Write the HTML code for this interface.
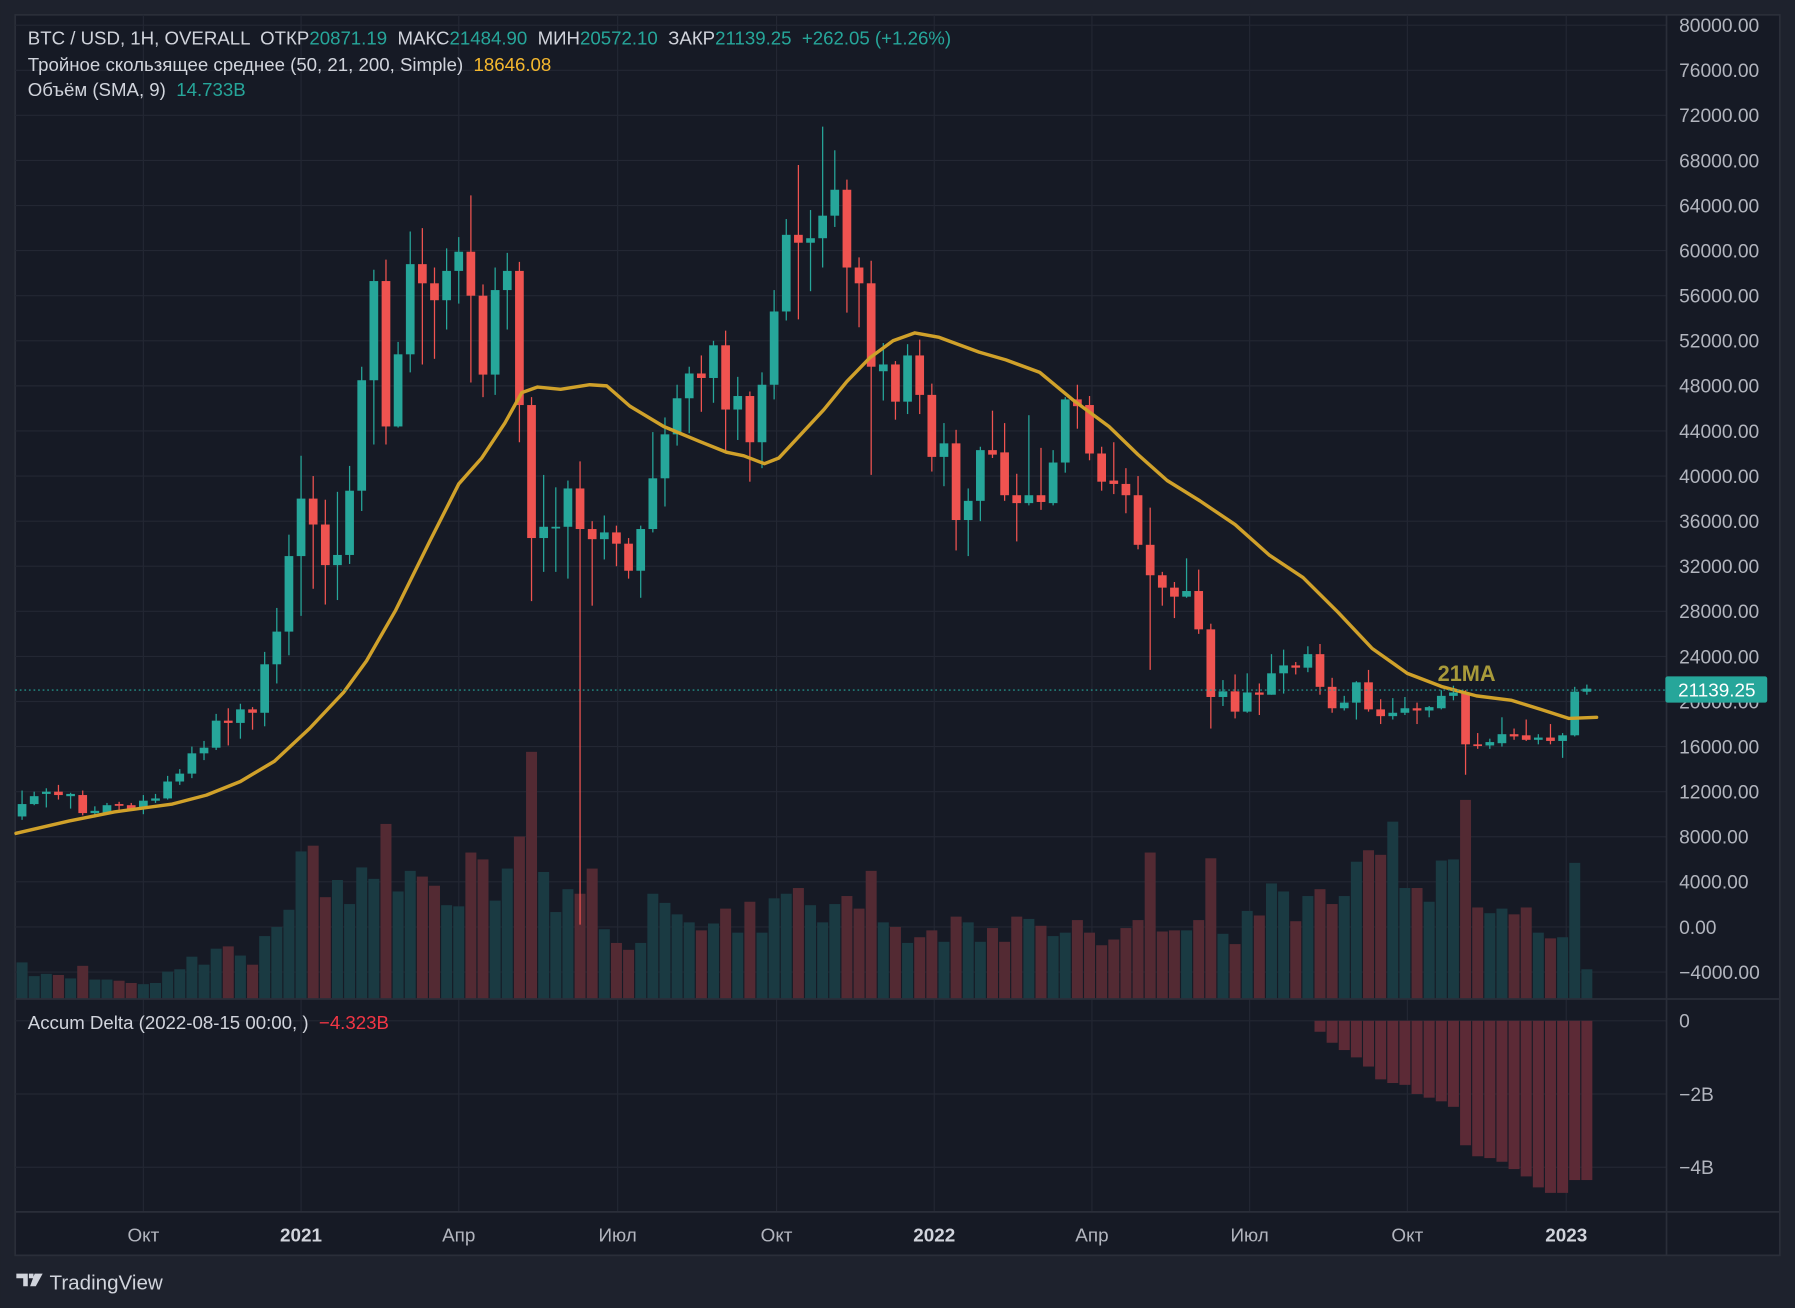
<!DOCTYPE html>
<html><head><meta charset="utf-8"><style>
html,body{margin:0;padding:0;background:#1e222d;}
svg{display:block;font-family:"Liberation Sans","DejaVu Sans",sans-serif;}
text{white-space:pre;}
</style></head><body>
<svg id="chart" width="1795" height="1308" viewBox="0 0 1568 1143" xmlns="http://www.w3.org/2000/svg">
<rect x="0" y="0" width="1568" height="1143" fill="#1e222d"/>
<rect x="13" y="13" width="1542" height="1084" fill="#161a25" stroke="#2a2e39" stroke-width="1.5"/>
<g id="grid"></g>
<g id="volume"></g>
<g id="candles"></g>
<g id="ma"></g>
<g id="delta"></g>
<line x1="13" y1="873" x2="1555" y2="873" stroke="#2a2e39" stroke-width="1.5"/>
<line x1="13" y1="1059" x2="1555" y2="1059" stroke="#2a2e39" stroke-width="1.5"/>
<line x1="1456" y1="13" x2="1456" y2="1097" stroke="#2a2e39" stroke-width="1.5"/>
<line x1="13" y1="603" x2="1456" y2="603" stroke="#26a69a" stroke-width="1" stroke-dasharray="1.5,2.5"/>
<g id="axis" fill="#b2b5be" font-size="16.8"></g>
<g id="taxis" fill="#b2b5be" font-size="16.5"></g>
<rect x="1455" y="591" width="89" height="23" rx="2" fill="#26a69a"/>
<text x="1500" y="608.5" fill="#ffffff" font-size="16.5" text-anchor="middle">21139.25</text>
<text x="1256" y="595" fill="#a89a3a" font-size="19" font-weight="bold">21MA</text>
<g font-size="16.3">
<text x="24" y="39" fill="#d1d4dc">BTC / USD, 1H, OVERALL  ОТКР<tspan fill="#26a69a">20871.19</tspan>  МАКС<tspan fill="#26a69a">21484.90</tspan>  МИН<tspan fill="#26a69a">20572.10</tspan>  ЗАКР<tspan fill="#26a69a">21139.25</tspan>  <tspan fill="#26a69a">+262.05 (+1.26%)</tspan></text>
<text x="24" y="62" fill="#d1d4dc">Тройное скользящее среднее (50, 21, 200, Simple)  <tspan fill="#f5b82e">18646.08</tspan></text>
<text x="24" y="84" fill="#d1d4dc">Объём (SMA, 9)  <tspan fill="#26a69a">14.733B</tspan></text>
<text x="24" y="899" fill="#d1d4dc">Accum Delta (2022-08-15 00:00, )  <tspan fill="#f23645">−4.323B</tspan></text>
</g>
<g>
<path d="M14 1113 h10 v11 h-4 v-7 h-6 z M25 1113 h4 v4 h-4 z M30 1113 h7 l-6 11 h-5 z" fill="#d1d4dc"/>
<text x="43" y="1127" fill="#d1d4dc" font-size="18">TradingView</text>
</g>
</svg>
<script>
// ---- data (prices in thousands USD, weekly candles) ----
const opens  = [9.8,10.9,11.8,12.0,11.6,11.7,10.1,10.1,10.9,10.8,10.5,11.2,11.4,12.9,13.6,15.4,15.9,18.3,18.1,19.3,19.0,23.3,26.2,32.9,38.0,35.7,32.1,33.0,38.7,48.5,57.3,44.4,50.8,58.8,57.1,55.6,58.2,59.9,56.0,49.0,56.5,58.2,46.3,34.5,35.5,35.5,38.9,35.3,34.4,35.0,34.0,31.6,35.3,39.8,43.7,46.9,49.1,48.7,51.6,45.9,47.1,43.0,48.1,54.6,61.4,60.7,61.1,63.1,65.4,58.5,57.1,49.3,49.9,46.6,50.7,47.2,41.7,42.9,36.1,37.8,42.3,42.1,38.3,37.6,38.3,37.6,41.2,46.8,46.3,42.0,39.6,39.3,38.3,33.9,31.2,30.1,29.3,29.8,26.4,20.4,20.9,19.1,20.8,20.6,22.5,23.2,23.0,24.2,21.3,19.4,19.9,21.7,19.3,18.7,19.0,19.4,19.2,19.4,20.5,20.8,16.2,16.1,16.3,17.1,17.0,16.6,16.8,16.5,17.0,20.87];
const highs  = [12.1,12.0,12.3,12.6,11.9,12.1,10.7,11.0,11.1,11.0,11.7,11.8,13.4,14.0,16.0,16.5,18.9,19.4,19.8,19.5,24.4,28.3,34.8,41.8,40.0,37.9,38.6,40.9,49.7,58.3,59.2,51.9,61.7,62.0,58.5,60.2,61.2,64.9,57.0,58.5,59.8,59.0,47.0,40.1,39.0,39.6,41.3,36.0,36.5,35.6,34.5,35.6,43.9,45.2,48.1,49.7,50.7,52.0,52.9,48.8,47.5,49.2,56.5,62.8,67.6,63.6,71.0,68.9,66.3,59.4,59.1,51.8,50.2,51.7,52.1,48.2,44.7,44.1,38.9,42.6,45.8,44.7,40.2,45.4,42.5,42.3,47.0,48.1,47.1,42.6,43.0,40.7,40.0,37.2,31.5,30.6,32.7,31.7,26.9,21.9,22.4,22.5,21.6,24.2,24.6,23.5,24.9,25.1,22.1,20.5,21.8,22.8,20.2,20.3,20.4,19.9,19.6,21.0,21.4,21.0,17.2,16.7,18.6,17.6,18.4,17.1,18.0,17.2,21.3,21.5];
const lows   = [9.5,10.8,10.6,11.3,10.5,9.9,9.7,10.0,10.2,10.3,10.0,11.0,11.3,12.6,13.2,14.8,15.7,16.1,16.7,17.5,17.8,21.6,24.1,27.6,30.0,28.6,29.0,32.2,36.9,42.8,42.8,44.3,49.2,49.9,50.4,53.0,55.3,48.3,47.0,47.2,53.0,43.0,28.9,31.5,31.5,30.9,0.2,28.5,32.6,32.0,30.9,29.2,35.0,37.3,42.7,43.8,45.7,46.5,42.0,43.2,39.5,40.7,46.8,53.8,53.9,56.4,58.5,62.1,54.5,53.2,40.1,46.7,45.0,45.5,45.5,40.4,39.1,33.4,32.9,36.0,41.6,37.8,34.2,37.4,37.0,37.4,40.3,44.2,41.4,38.7,38.4,36.7,33.5,22.8,28.5,27.4,29.2,26.0,17.6,19.6,18.5,19.0,18.8,20.6,20.7,22.4,22.6,20.6,19.0,19.2,18.4,19.1,18.0,18.4,18.8,18.0,18.6,19.3,20.1,13.5,15.8,15.8,16.0,16.6,16.5,16.2,16.2,15.0,16.9,20.6];
const closes = [10.9,11.6,12.0,11.7,11.8,10.1,10.3,10.8,10.8,10.5,11.2,11.4,12.9,13.6,15.4,15.9,18.3,18.1,19.3,19.0,23.3,26.2,32.9,38.0,35.7,32.1,33.0,38.7,48.5,57.3,44.4,50.8,58.8,57.1,55.6,58.2,59.9,56.0,49.0,56.5,58.2,46.3,34.5,35.5,35.5,38.9,35.3,34.4,35.0,34.0,31.6,35.3,39.8,43.7,46.9,49.1,48.7,51.6,45.9,47.1,43.0,48.1,54.6,61.4,60.7,61.1,63.1,65.4,58.5,57.1,49.7,49.9,46.6,50.7,47.2,41.7,42.9,36.1,37.8,42.3,41.9,38.3,37.6,38.3,37.7,41.2,46.8,46.2,42.0,39.5,39.3,38.3,33.9,31.2,30.1,29.3,29.8,26.4,20.4,20.9,19.1,20.8,20.6,22.5,23.2,23.0,24.2,21.3,19.4,19.9,21.7,19.3,18.7,19.0,19.4,19.2,19.5,20.5,20.8,16.2,16.1,16.4,17.1,16.9,16.6,16.8,16.5,17.0,20.87,21.14];
const volumes = [32,20,22,21,18,29,17,17,16,14,13,14,24,26,37,30,44,46,38,30,55,63,78,129,134,89,104,83,115,105,153,94,112,107,99,82,81,128,122,86,114,142,216,111,76,96,92,114,61,49,43,49,92,84,74,67,60,66,79,58,85,58,88,92,97,82,67,83,90,79,112,67,63,49,54,60,50,72,67,50,62,50,72,70,64,55,58,69,58,47,52,62,69,128,59,60,60,69,123,57,48,77,73,101,94,68,90,96,83,90,120,130,126,155,97,97,85,121,122,174,80,75,79,74,80,58,53,54,119,26];
const maIndex = [-0.5,3.9,7.6,12.4,15.2,18.0,20.8,23.7,26.5,28.4,30.8,33.6,36.0,37.9,39.8,41.2,42.5,44.4,46.8,48.2,50.1,52.9,55.8,58.1,59.5,61.2,62.4,64.2,66.1,68.0,69.9,71.8,73.6,75.6,78.9,81.1,83.9,86.7,89.6,92.0,94.4,97.1,100.0,102.8,105.6,108.5,111.3,114.2,117.1,119.9,122.8,125.2,127.5,129.8];
const maValues = [8.3,9.4,10.2,10.9,11.7,12.9,14.7,17.6,20.8,23.6,28.1,34.2,39.3,41.6,44.7,47.4,47.9,47.7,48.1,48.0,46.2,44.4,43.1,42.1,41.8,41.1,41.6,43.7,45.9,48.4,50.5,52.0,52.7,52.3,51.0,50.3,49.2,46.7,44.4,41.9,39.6,37.8,35.7,33.0,31.0,27.9,24.7,22.5,21.3,20.5,20.1,19.3,18.5,18.6];
const deltaStart = 107;
const deltaValues = [-0.3,-0.6,-0.8,-1.0,-1.25,-1.6,-1.7,-1.75,-2.0,-2.1,-2.2,-2.35,-3.4,-3.7,-3.75,-3.85,-4.05,-4.25,-4.55,-4.7,-4.7,-4.35,-4.35];
const priceTicks = [80000,76000,72000,68000,64000,60000,56000,52000,48000,44000,40000,36000,32000,28000,24000,20000,16000,12000,8000,4000,0,-4000];
const deltaTicks = [0,-2,-4];
const deltaTickLabels = ["0","−2B","−4B"];
const timeTicks = [10.0,23.0,36.0,49.1,62.2,75.2,88.2,101.2,114.2,127.3];
const timeLabels = ["Окт","2021","Апр","Июл","Окт","2022","Апр","Июл","Окт","2023"];
const timeBold = [false,true,false,false,false,true,false,false,false,true];

// ---- scales ----
const NS = "http://www.w3.org/2000/svg";
const xOf = i => 19 + i * 10.6;
const yPrice = p => 810 - p * 9.85;          // p in thousands
const yVol = v => 873 - v;
const yDelta = d => 892 - d * 32;            // d in billions
function mk(tag, attrs, parent){const e=document.createElementNS(NS,tag);for(const k in attrs)e.setAttribute(k,attrs[k]);parent.appendChild(e);return e;}

const grid = document.getElementById('grid');
priceTicks.forEach(t=>{
  const y=yPrice(t/1000);
  const l=mk('line',{x1:13,x2:1456,y1:y,y2:y,stroke:'#232733','stroke-width':1},grid);
  
  
});
deltaTicks.forEach(t=>{
  const y=yDelta(t);
  const l=mk('line',{x1:13,x2:1456,y1:y,y2:y,stroke:'#232733','stroke-width':1},grid);
  
  
});
timeTicks.forEach(t=>{
  const x=xOf(t);
  const l=mk('line',{x1:x,x2:x,y1:13,y2:1059,stroke:'#232733','stroke-width':1},grid);
  
  
});

const axis=document.getElementById('axis');
priceTicks.forEach(t=>{
  const tx=mk('text',{x:1467,y:yPrice(t/1000)+6},axis);
  tx.textContent=(t<0?'−'+Math.abs(t):String(t))+'.00';
  
  
});
deltaTicks.forEach((t,i)=>{
  const tx=mk('text',{x:1467,y:yDelta(t)+6},axis);
  tx.textContent=deltaTickLabels[i];
  
  
});
const taxis=document.getElementById('taxis');
timeTicks.forEach((t,i)=>{
  const tx=mk('text',{x:xOf(t),y:1085,'text-anchor':'middle','font-weight':timeBold[i]?'bold':'normal',fill:timeBold[i]?'#d1d4dc':'#b2b5be'},taxis);
  tx.textContent=timeLabels[i];
  
  
});

const vg=document.getElementById('volume');
volumes.forEach((v,i)=>{
  const up=closes[i]>=opens[i];
  const r=mk('rect',{x:xOf(i)-4.8,y:yVol(v),width:9.6,height:v,fill:up?'#1a3a42':'#532a33'},vg);
  
  
});

const cg=document.getElementById('candles');
opens.forEach((o,i)=>{
  const c=closes[i], up=c>=o, col=up?'#26a69a':'#ef5350', x=xOf(i);
  const w=mk('line',{x1:x,x2:x,y1:yPrice(highs[i]),y2:yPrice(lows[i]),stroke:col,'stroke-width':1.1},cg);
  
  
  const top=yPrice(Math.max(o,c)), bot=yPrice(Math.min(o,c));
  const b=mk('rect',{x:x-3.8,y:top,width:7.6,height:Math.max(1.5,bot-top),fill:col},cg);
  
  
});

const mg=document.getElementById('ma');
const pts=maIndex.map((m,i)=>xOf(m).toFixed(1)+','+yPrice(maValues[i]).toFixed(1)).join(' ');
const pl=mk('polyline',{points:pts,fill:'none',stroke:'#d0a12a','stroke-width':3,'stroke-linejoin':'round','stroke-linecap':'round'},mg);



const dg=document.getElementById('delta');
deltaValues.forEach((d,k)=>{
  const x=xOf(deltaStart+k);
  const r=mk('rect',{x:x-4.8,y:yDelta(0),width:9.6,height:yDelta(d)-yDelta(0),fill:'#5c2a36'},dg);
  
  
});
</script>
</body></html>
